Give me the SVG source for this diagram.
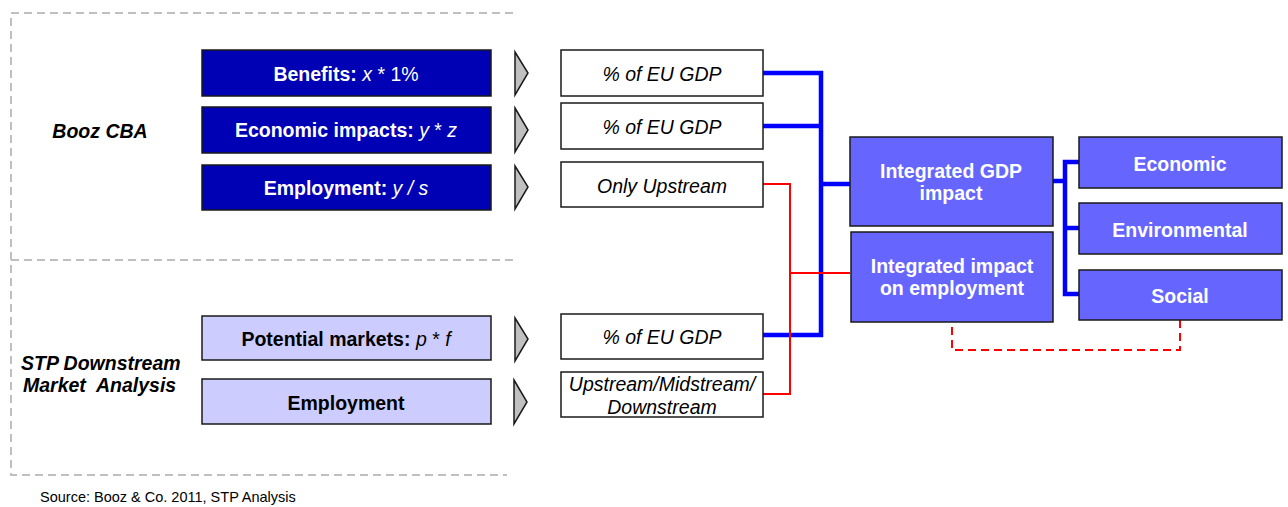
<svg xmlns="http://www.w3.org/2000/svg" width="1288" height="507" viewBox="0 0 1288 507">
<style>
text{font-family:"Liberation Sans",Arial,sans-serif;}
.frame{fill:none;stroke:#BFBFBF;stroke-width:2;stroke-dasharray:8,5;}
.dk{fill:#0000B4;stroke:#1a1a1a;stroke-width:1.5;}
.lt{fill:#CCCCFF;stroke:#1a1a1a;stroke-width:1.5;}
.md{fill:#6666FF;stroke:#1a1a1a;stroke-width:1.5;}
.wb{fill:#FFFFFF;stroke:#1a1a1a;stroke-width:1.5;}
.chev{fill:#C0C0C0;stroke:#1a1a1a;stroke-width:1.5;stroke-linejoin:miter;}
.wt{fill:#FFFFFF;font-size:19.5px;font-weight:bold;}
.bt{fill:#000000;font-size:19.5px;font-weight:bold;}
.it{fill:#000000;font-size:19.5px;font-style:italic;}
.lbl{fill:#000000;font-size:19.5px;font-style:italic;font-weight:bold;}
.v{font-weight:normal;font-style:italic;}
.n{font-weight:normal;}
.blue{fill:none;stroke:#0000FF;stroke-width:4.5;stroke-linejoin:miter;}
.red{fill:none;stroke:#FF0000;stroke-width:2;}
.reddash{fill:none;stroke:#FF0000;stroke-width:2;stroke-dasharray:8,5;}
</style>
<rect width="1288" height="507" fill="#FFFFFF"/>
<g id="frames">
<path class="frame" d="M513,13 H11 V475 H507"/>
<path class="frame" d="M11,260 H513"/>
</g>
<g id="section-labels">
<text class="lbl" x="100" y="138" text-anchor="middle">Booz CBA</text>
<text class="lbl" x="21" y="370">STP Downstream</text>
<text class="lbl" x="23" y="392" xml:space="preserve">Market  Analysis</text>
</g>
<g id="connectors">
<path class="blue" d="M763,73 H821 V335 H763"/>
<path class="blue" d="M763,126 H821"/>
<path class="blue" d="M821,184 H850"/>
<path class="red" d="M763,184 H790 V394 H763"/>
<path class="red" d="M790,273 H850"/>
<path class="blue" d="M1053,181 H1065"/>
<path class="blue" d="M1079,162 H1065 V294 H1079"/>
<path class="blue" d="M1065,228 H1079"/>
<path class="reddash" d="M1180,320 V350 H952 V322"/>
</g>
<g id="benefits">
<rect class="dk" x="202" y="50" width="289" height="46"/>
<text class="wt" x="346" y="81" text-anchor="middle">Benefits: <tspan class="v">x</tspan><tspan class="n"> * 1%</tspan></text>
</g>
<g id="economic-impacts">
<rect class="dk" x="202" y="107" width="289" height="46"/>
<text class="wt" x="346" y="137" text-anchor="middle">Economic impacts: <tspan class="v">y</tspan><tspan class="n"> * </tspan><tspan class="v">z</tspan></text>
</g>
<g id="employment-booz">
<rect class="dk" x="202" y="165" width="289" height="45"/>
<text class="wt" x="346" y="195" text-anchor="middle">Employment: <tspan class="v">y / s</tspan></text>
</g>
<g id="potential-markets">
<rect class="lt" x="202" y="316" width="289" height="44"/>
<text class="bt" x="346" y="346" text-anchor="middle">Potential markets: <tspan class="v">p</tspan><tspan class="n"> * </tspan><tspan class="v">f</tspan></text>
</g>
<g id="employment-stp">
<rect class="lt" x="202" y="379" width="289" height="45"/>
<text class="bt" x="346" y="410" text-anchor="middle">Employment</text>
</g>
<g id="chevrons">
<polygon class="chev" points="515,52 528,73 515,95"/>
<polygon class="chev" points="515,108 528,130 515,152"/>
<polygon class="chev" points="515,166 528,187 515,209"/>
<polygon class="chev" points="515,318 528,339 515,361"/>
<polygon class="chev" points="514,380 527,402 514,424"/>
</g>
<g id="gdp1">
<rect class="wb" x="561" y="50" width="202" height="46"/>
<text class="it" x="662" y="81" text-anchor="middle">% of EU GDP</text>
</g>
<g id="gdp2">
<rect class="wb" x="561" y="103" width="202" height="46"/>
<text class="it" x="662" y="134" text-anchor="middle">% of EU GDP</text>
</g>
<g id="only-upstream">
<rect class="wb" x="561" y="162" width="202" height="45"/>
<text class="it" x="662" y="193" text-anchor="middle">Only Upstream</text>
</g>
<g id="gdp3">
<rect class="wb" x="561" y="314" width="202" height="45"/>
<text class="it" x="662" y="344" text-anchor="middle">% of EU GDP</text>
</g>
<g id="up-mid-down">
<rect class="wb" x="561" y="372" width="202" height="45"/>
<text class="it" x="662" y="391" text-anchor="middle">Upstream/Midstream/</text>
<text class="it" x="662" y="414" text-anchor="middle">Downstream</text>
</g>
<g id="integrated-gdp">
<rect class="md" x="850" y="137" width="203" height="89"/>
<text class="wt" x="951" y="178" text-anchor="middle">Integrated GDP</text>
<text class="wt" x="951" y="200" text-anchor="middle">impact</text>
</g>
<g id="integrated-employment">
<rect class="md" x="851" y="232" width="202" height="90"/>
<text class="wt" x="952" y="273" text-anchor="middle">Integrated impact</text>
<text class="wt" x="952" y="295" text-anchor="middle">on employment</text>
</g>
<g id="economic">
<rect class="md" x="1079" y="137" width="203" height="51"/>
<text class="wt" x="1180" y="171" text-anchor="middle">Economic</text>
</g>
<g id="environmental">
<rect class="md" x="1079" y="203" width="203" height="51"/>
<text class="wt" x="1180" y="237" text-anchor="middle">Environmental</text>
</g>
<g id="social">
<rect class="md" x="1079" y="270" width="203" height="50"/>
<text class="wt" x="1180" y="303" text-anchor="middle">Social</text>
</g>
<text x="40" y="502" font-size="14.5" fill="#000000">Source: Booz &amp; Co. 2011, STP Analysis</text>
</svg>
